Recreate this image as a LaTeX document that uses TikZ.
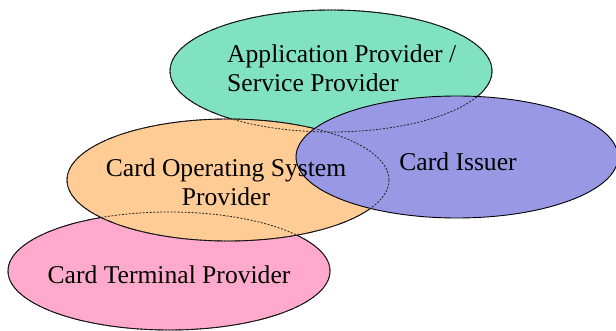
\documentclass[tikz,border=0pt]{standalone}
\usepackage{fontspec}
\setmainfont{Liberation Serif}
\usetikzlibrary{shapes.geometric}
\definecolor{cgreen}{RGB}{128,226,192}
\definecolor{corange}{RGB}{255,204,150}
\definecolor{cblue}{RGB}{152,152,228}
\definecolor{cpink}{RGB}{255,170,204}
\begin{document}
\begin{tikzpicture}[x=1pt,y=-1pt,
  oval/.style={ellipse, draw=black, line width=0.9pt, inner sep=0pt, minimum width=322pt, minimum height=122pt},
  hid/.style={draw=black!85, line width=0.8pt, dash pattern=on 2pt off 1.5pt},
  lbl/.style={font=\fontsize{25.6}{28.5}\selectfont, text=black, inner sep=0pt}]
\useasboundingbox (0,0) rectangle (616,331);
\node[oval, fill=cgreen] (green) at (331,71) {};
\node[oval, fill=cpink, minimum height=118pt] (pink) at (169,271) {};
\node[oval, fill=corange] (orange) at (228,180) {};
\node[oval, fill=cblue] (blue) at (457,157) {};
\draw[hid] (green.center) ellipse [x radius=161pt, y radius=61pt];
\draw[hid] (pink.center) ellipse [x radius=161pt, y radius=59pt];
\draw[hid] (orange.center) ellipse [x radius=161pt, y radius=61pt];
\node[lbl, align=left, anchor=north west] (tgreen) at (227,45) {Application Provider /\\Service Provider};
\node[lbl, align=center] (torange) at (226,182) {Card Operating System\\Provider};
\node[lbl] (tblue) at (458,162) {Card Issuer};
\node[lbl] (tpink) at (169,275) {Card Terminal Provider};
\end{tikzpicture}
\end{document}
